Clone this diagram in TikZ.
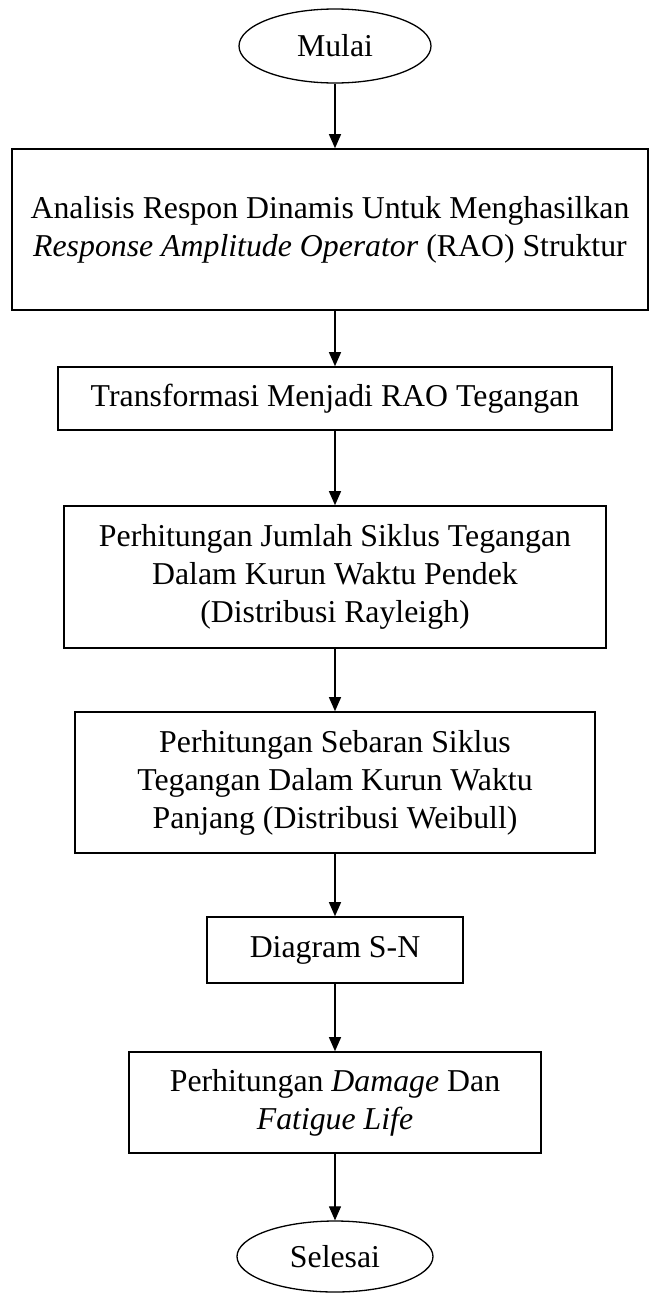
\documentclass[tikz,border=0pt]{standalone}
\usepackage{fontspec}
\setmainfont{Liberation Serif}
\usetikzlibrary{shapes.geometric,arrows.meta}
\begin{document}
\begin{tikzpicture}[x=1pt,y=-1pt,
  every node/.style={font=\fontsize{31.8}{38}\selectfont, align=center, inner sep=0pt},
  procbox/.style={draw, line width=1.6pt, rectangle},
  termbox/.style={draw, line width=1.3pt, ellipse},
  arr/.style={line width=1.2pt, -{Triangle[length=14pt,width=12pt]}}]
\useasboundingbox (0,0) rectangle (649,1293);
\node[termbox, minimum width=192pt, minimum height=74pt] (start) at (335,46) {Mulai};
\node[procbox, minimum width=636pt, minimum height=161pt] (b1) at (330,229.5)
  {Analisis Respon Dinamis Untuk Menghasilkan\\\textit{Response Amplitude Operator} (RAO) Struktur};
\node[procbox, minimum width=554pt, minimum height=63pt] (b2) at (335,398.5)
  {Transformasi Menjadi RAO Tegangan};
\node[procbox, minimum width=542pt, minimum height=142pt] (b3) at (335,577)
  {Perhitungan Jumlah Siklus Tegangan\\Dalam Kurun Waktu Pendek\\(Distribusi Rayleigh)};
\node[procbox, minimum width=520pt, minimum height=141pt] (b4) at (335,782.5)
  {Perhitungan Sebaran Siklus\\Tegangan Dalam Kurun Waktu\\Panjang (Distribusi Weibull)};
\node[procbox, minimum width=256pt, minimum height=66pt] (b5) at (335,950)
  {Diagram S-N};
\node[procbox, minimum width=412pt, minimum height=101pt] (b6) at (335,1102.5)
  {Perhitungan \textit{Damage} Dan\\\textit{Fatigue Life}};
\node[termbox, minimum width=196pt, minimum height=71pt] (end) at (335,1256.5) {Selesai};
\draw[arr] (start.south) -- (start.south |- b1.north);
\draw[arr] (b1.south -| b2.north) -- (b2.north);
\draw[arr] (b2) -- (b3);
\draw[arr] (b3) -- (b4);
\draw[arr] (b4) -- (b5);
\draw[arr] (b5) -- (b6);
\draw[arr] (b6) -- (end);
\end{tikzpicture}
\end{document}
